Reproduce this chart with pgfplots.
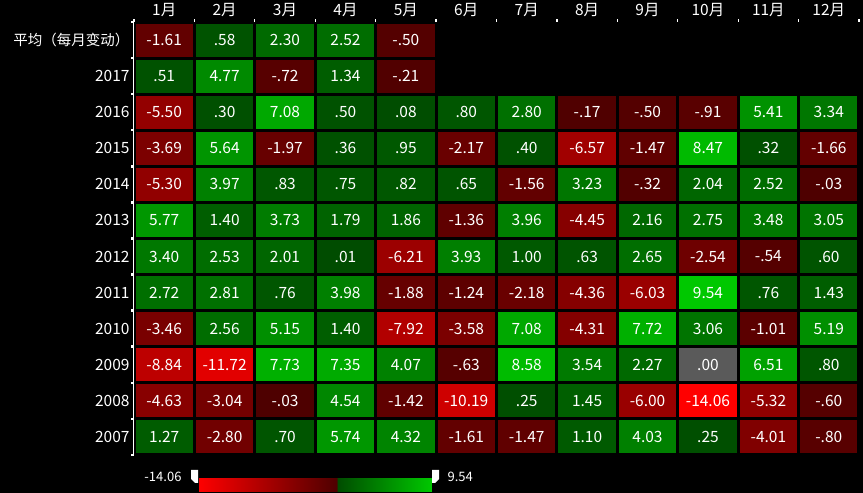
\documentclass[border=0pt]{standalone}
\usepackage{pgfplots}
\pgfplotsset{compat=1.18}
\usepackage{pgfplotstable}
\usepackage{fontspec}
\setmainfont{Noto Sans CJK SC}

\pgfplotstableread{
x y v
0 11 -1.61
1 11 0.58
2 11 2.30
3 11 2.52
4 11 -0.50
0 10 0.51
1 10 4.77
2 10 -0.72
3 10 1.34
4 10 -0.21
0 9 -5.50
1 9 0.30
2 9 7.08
3 9 0.50
4 9 0.08
5 9 0.80
6 9 2.80
7 9 -0.17
8 9 -0.50
9 9 -0.91
10 9 5.41
11 9 3.34
0 8 -3.69
1 8 5.64
2 8 -1.97
3 8 0.36
4 8 0.95
5 8 -2.17
6 8 0.40
7 8 -6.57
8 8 -1.47
9 8 8.47
10 8 0.32
11 8 -1.66
0 7 -5.30
1 7 3.97
2 7 0.83
3 7 0.75
4 7 0.82
5 7 0.65
6 7 -1.56
7 7 3.23
8 7 -0.32
9 7 2.04
10 7 2.52
11 7 -0.03
0 6 5.77
1 6 1.40
2 6 3.73
3 6 1.79
4 6 1.86
5 6 -1.36
6 6 3.96
7 6 -4.45
8 6 2.16
9 6 2.75
10 6 3.48
11 6 3.05
0 5 3.40
1 5 2.53
2 5 2.01
3 5 0.01
4 5 -6.21
5 5 3.93
6 5 1.00
7 5 0.63
8 5 2.65
9 5 -2.54
10 5 -0.54
11 5 0.60
0 4 2.72
1 4 2.81
2 4 0.76
3 4 3.98
4 4 -1.88
5 4 -1.24
6 4 -2.18
7 4 -4.36
8 4 -6.03
9 4 9.54
10 4 0.76
11 4 1.43
0 3 -3.46
1 3 2.56
2 3 5.15
3 3 1.40
4 3 -7.92
5 3 -3.58
6 3 7.08
7 3 -4.31
8 3 7.72
9 3 3.06
10 3 -1.01
11 3 5.19
0 2 -8.84
1 2 -11.72
2 2 7.73
3 2 7.35
4 2 4.07
5 2 -0.63
6 2 8.58
7 2 3.54
8 2 2.27
9 2 0.00
10 2 6.51
11 2 0.80
0 1 -4.63
1 1 -3.04
2 1 -0.03
3 1 4.54
4 1 -1.42
5 1 -10.19
6 1 0.25
7 1 1.45
8 1 -6.00
9 1 -14.06
10 1 -5.32
11 1 -0.60
0 0 1.27
1 0 -2.80
2 0 0.70
3 0 5.74
4 0 4.32
5 0 -1.61
6 0 -1.47
7 0 1.10
8 0 4.03
9 0 0.25
10 0 -4.01
11 0 -0.80
}\data

\pgfdeclareplotmark{cell}{\pgfpathrectangle{\pgfpoint{-28.7pt}{-16.5pt}}{\pgfpoint{57.4pt}{33pt}}\pgfusepathqfill}
\definecolor{zerogray}{RGB}{90,90,90}

\begin{document}
\begin{tikzpicture}
\path[fill=black, use as bounding box] (0,0) rectangle (863pt,493pt);
\begin{axis}[
  at={(134pt,471pt)}, anchor=north west,
  scale only axis, width=725pt, height=433pt,
  xmin=-0.5, xmax=11.5, ymin=-0.5, ymax=11.5,
  axis x line*=top, axis y line*=left,
  x axis line style={draw=none},
  y axis line style={white, line width=1pt, -},
  xtick={0,...,11},
  xticklabels={1月,2月,3月,4月,5月,6月,7月,8月,9月,10月,11月,12月},
  ytick={0,...,11},
  yticklabels={2007,2008,2009,2010,2011,2012,2013,2014,2015,2016,2017,{\fontsize{14.5}{15}\selectfont 平均（每月变动）}},
  major tick length=0pt,
  minor xtick={-0.5,0.5,...,11.5},
  minor ytick={-0.5,0.5,...,11.5},
  minor x tick style={white, line width=1.2pt},
  minor y tick style={white, line width=2.5pt},
  minor tick length=2.5pt,
  tick align=outside,
  xticklabel style={white, font=\fontsize{15.5}{16}\selectfont, yshift=2pt},
  yticklabel style={white, font=\fontsize{15.5}{16}\selectfont, xshift=-1pt},
  colormap={rg}{rgb255(0pt)=(255,0,0) rgb255(14.05pt)=(78,0,0) rgb255(14.07pt)=(0,76,0) rgb255(23.6pt)=(0,200,0)},
  point meta min=-14.06, point meta max=9.54,
  colorbar horizontal,
  colorbar style={
    at={(parent axis.south west)}, anchor=north west,
    xshift=64pt, yshift=-15pt,
    scale only axis, width=234pt, height=13pt,
    xtick=\empty, ytick=\empty, axis line style={draw=none},
  },
]
\addplot[scatter, only marks, mark=cell,
  scatter/use mapped color={draw=none, fill=mapped color},
  point meta=\thisrow{v},
] table[x=x, y=y] {\data};
\addplot[only marks, mark=cell, mark options={fill=zerogray}] coordinates {(9,2)};
\addplot[draw=none, mark=none,
  point meta=\thisrow{v},
  nodes near coords={\pgfmathprintnumber[fixed, fixed zerofill, precision=2, skip 0., assume math mode=true]{\pgfplotspointmeta}},
  every node near coord/.append style={anchor=center, white, font=\fontsize{15.5}{16}\selectfont},
] table[x=x, y=y] {\data};
\end{axis}
\node[anchor=east, white, font=\fontsize{13}{14}\selectfont] at (185pt,16.5pt) {-14.06};
\node[anchor=west, white, font=\fontsize{13}{14}\selectfont] at (444pt,16.5pt) {9.54};
\fill[white] (191pt,23pt) -- (198pt,23pt) -- (198pt,10pt) -- (195pt,10pt) -- (191pt,14pt) -- cycle;
\fill[white] (432pt,23pt) -- (439pt,23pt) -- (439pt,14pt) -- (435pt,10pt) -- (432pt,10pt) -- cycle;
\end{tikzpicture}
\end{document}
